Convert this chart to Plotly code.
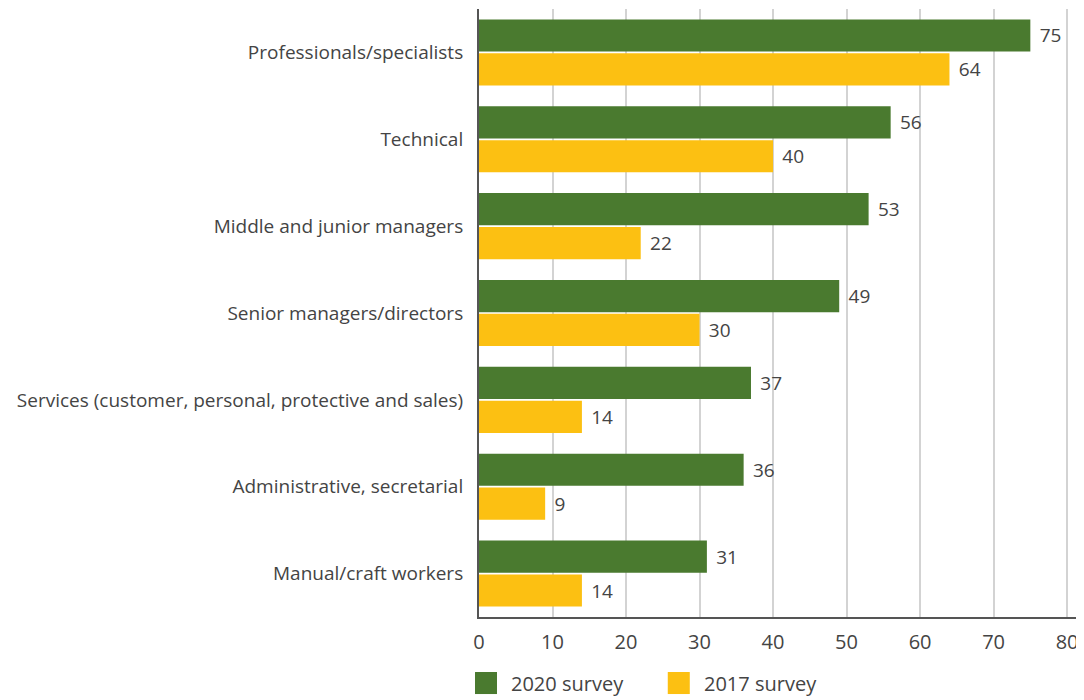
import plotly.graph_objects as go

categories = [
    "Professionals/specialists",
    "Technical",
    "Middle and junior managers",
    "Senior managers/directors",
    "Services (customer, personal, protective and sales)",
    "Administrative, secretarial",
    "Manual/craft workers",
]
survey_2020 = [75, 56, 53, 49, 37, 36, 31]
survey_2017 = [64, 40, 22, 30, 14, 9, 14]
series_names = ["2020 survey", "2017 survey"]
x_ticks = [0, 10, 20, 30, 40, 50, 60, 70, 80]

GREEN = "#4a7a2f"
YELLOW = "#fcc012"
TEXT = "#444444"
FONT = "Open Sans"

fig = go.Figure()
for name, vals, col in [(series_names[0], survey_2020, GREEN), (series_names[1], survey_2017, YELLOW)]:
    fig.add_trace(go.Bar(
        y=categories, x=vals, name=name, orientation="h",
        marker=dict(color=col, line=dict(width=0)),
        text=vals, texttemplate="\u2009\u2009%{x}", textposition="outside",
        textfont=dict(family=FONT, size=19, color=TEXT),
        cliponaxis=False, showlegend=False,
    ))

fig.update_layout(
    width=1076, height=692,
    margin=dict(l=471, r=0, t=1, b=83),
    paper_bgcolor="white", plot_bgcolor="white",
    barmode="group", bargap=0.22, bargroupgap=0.05,
    font=dict(family=FONT, size=19, color=TEXT),
    xaxis=dict(
        range=[0, 82.3], tickvals=x_ticks, showgrid=True,
        gridcolor="#d3d3d3", gridwidth=1.5, zeroline=False,
        showline=True, linecolor="#555555", linewidth=2,
        ticks="", tickfont=dict(size=20, color=TEXT), ticklabelstandoff=6,
        automargin=False,
    ),
    yaxis=dict(
        autorange="reversed", showgrid=False, zeroline=False,
        showline=True, linecolor="#555555", linewidth=2,
        ticks="", tickfont=dict(size=19, color=TEXT), ticklabelstandoff=10,
        automargin=False,
    ),
)

# custom legend at the bottom
legend_items = [(series_names[0], GREEN, -0.0066), (series_names[1], YELLOW, 0.312)]
for name, col, x0 in legend_items:
    fig.add_shape(type="rect", xref="paper", yref="paper",
                  x0=x0, x1=x0 + 0.0364, y0=-0.0905, y1=-0.1267,
                  fillcolor=col, line=dict(width=0))
    fig.add_annotation(xref="paper", yref="paper", x=x0 + 0.056, y=-0.109,
                       text=name, showarrow=False, xanchor="left", yanchor="middle",
                       font=dict(family=FONT, size=20, color=TEXT))

fig.write_html("out.html")
